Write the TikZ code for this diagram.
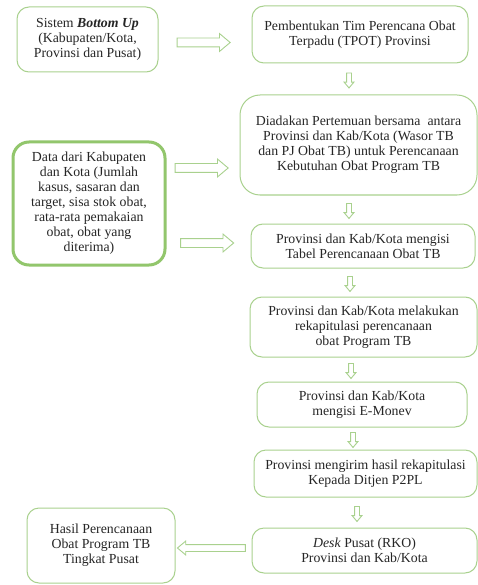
\documentclass[tikz,border=0pt]{standalone}
\usepackage{fontspec}
\setmainfont{Liberation Serif}
\newfontfamily\boxfont{Liberation Serif}
\usetikzlibrary{shapes.arrows}
\definecolor{boxgreen}{RGB}{169,209,142}
\definecolor{thickgreen}{RGB}{146,198,108}
\tikzset{
  box/.style={draw=boxgreen, line width=1pt, rounded corners=12pt, align=center,
    font=\boxfont\fontsize{13.8}{15}\selectfont, inner sep=0pt, text=black!85},
  rarrow/.style={single arrow, draw=boxgreen, line width=0.9pt, fill=white,
    minimum height=53pt, minimum width=0pt, inner sep=0pt, inner ysep=4pt,
    single arrow head extend=4.5pt, single arrow tip angle=80},
  larrow/.style={rarrow, shape border rotate=180, minimum height=68pt, inner ysep=3pt,
    single arrow head extend=3.5pt},
  darrow/.style={single arrow, draw=boxgreen, line width=0.9pt, fill=white,
    minimum height=15pt, minimum width=0pt, inner sep=2pt,
    single arrow head extend=2.5pt, single arrow tip angle=80, shape border rotate=270}
}
\begin{document}
\begin{tikzpicture}[x=1pt,y=-1pt]
\useasboundingbox[fill=white] (0,0) rectangle (478,585);
\node[box, minimum width=141pt, minimum height=65pt] (b1) at (87.5,39.5)
  {Sistem \textbf{\textit{Bottom Up}}\\(Kabupaten/Kota,\\Provinsi dan Pusat)};
\node[box, minimum width=216pt, minimum height=57pt] (b2) at (360,34.5)
  {Pembentukan Tim Perencana Obat\\Terpadu (TPOT) Provinsi};
\node[box, rounded corners=20pt, minimum width=237pt, minimum height=100pt] (b3) at (358.5,145)
  {Diadakan Pertemuan bersama\ \ antara\\Provinsi dan Kab/Kota (Wasor TB\\dan PJ Obat TB) untuk Perencanaan\\Kebutuhan Obat Program TB};
\node[box, draw=thickgreen, line width=3pt, rounded corners=16pt, minimum width=152pt, minimum height=123pt] (data) at (89,203.5)
  {Data dari Kabupaten\\dan Kota (Jumlah\\kasus, sasaran dan\\target, sisa stok obat,\\rata-rata pemakaian\\obat, obat yang\\diterima)};
\node[box, minimum width=224pt, minimum height=44pt] (b4) at (363,246)
  {Provinsi dan Kab/Kota mengisi\\Tabel Perencanaan Obat TB};
\node[box, minimum width=227pt, minimum height=60pt] (b5) at (363.5,327)
  {Provinsi dan Kab/Kota melakukan\\rekapitulasi perencanaan\\obat Program TB};
\node[box, minimum width=210pt, minimum height=45pt] (b6) at (362,404.5)
  {Provinsi dan Kab/Kota\\mengisi E-Monev};
\node[box, minimum width=223pt, minimum height=47pt] (b7) at (365.5,473.5)
  {Provinsi mengirim hasil rekapitulasi\\Kepada Ditjen P2PL};
\node[box, minimum width=225pt, minimum height=45pt] (b8) at (364.5,550.5)
  {\textit{Desk} Pusat (RKO)\\Provinsi dan Kab/Kota};
\node[box, minimum width=148pt, minimum height=75pt] (b9) at (101,545.5)
  {Hasil Perencanaan\\Obat Program TB\\Tingkat Pusat};
% horizontal arrows
\path (b1.east |- 0,42.5) -- (b2.west |- 0,42.5) node[midway, xshift=-4pt, rarrow] {};
\path (data.east |- 0,168) -- (b3.west |- 0,168) node[midway, xshift=-4pt, rarrow] {};
\path (data.east |- 0,243) -- (b4.west |- 0,243) node[midway, xshift=-4pt, rarrow] {};
\path (b8.west) -- (b9.east) node[midway, larrow] {};
% down arrows
\path (b2.south -| 349,0) -- (b3.north -| 349,0) node[midway, darrow] {};
\path (b3.south -| 349,0) -- (b4.north -| 349,0) node[midway, darrow] {};
\path (b4.south -| 350,0) -- (b5.north -| 350,0) node[midway, darrow] {};
\path (b5.south -| 351,0) -- (b6.north -| 351,0) node[midway, darrow] {};
\path (b6.south -| 353,0) -- (b7.north -| 353,0) node[midway, darrow] {};
\path (b7.south -| 357,0) -- (b8.north -| 357,0) node[midway, darrow] {};
\end{tikzpicture}
\end{document}
